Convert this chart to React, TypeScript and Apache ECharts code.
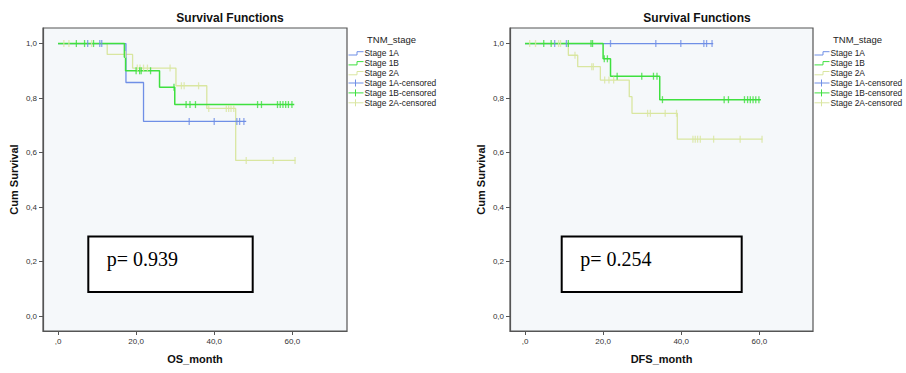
import React, { useEffect, useRef } from 'react';
import * as echarts from 'echarts';

const FONT = '"Liberation Sans", Arial, Helvetica, sans-serif';
const SERIF = '"Liberation Serif", "Times New Roman", serif';

const groupNames = ['Stage 1A', 'Stage 1B', 'Stage 2A'];
const legendLabels = ['Stage 1A', 'Stage 1B', 'Stage 2A', 'Stage 1A-censored', 'Stage 1B-censored', 'Stage 2A-censored'];
const groupColors = ['#6f8fe6', '#3fe03f', '#d9e6a0'];
const chartTitles = ['Survival Functions', 'Survival Functions'];
const xNames = ['OS_month', 'DFS_month'];
const yName = 'Cum Survival';
const legendTitle = 'TNM_stage';
const pValues = ['p= 0.939', 'p= 0.254'];

const xTickValues = [0, 20, 40, 60];
const yTickValues = [0, 0.2, 0.4, 0.6, 0.8, 1.0];

// ---- OS (left) ----
const os1A_time = [0, 17.4, 21.9, 48.2];
const os1A_surv = [1, 0.857, 0.714, 0.714];
const os1A_censTime = [7.6, 10.7, 11.2, 33.6, 40.0, 45.8, 46.5, 47.6];
const os1A_censSurv = [1, 1, 1, 0.714, 0.714, 0.714, 0.714, 0.714];

const os1B_time = [0, 17.0, 17.3, 26.0, 29.9, 60.5];
const os1B_surv = [1, 0.95, 0.9, 0.84, 0.776, 0.776];
const os1B_censTime = [4.7, 6.8, 9.1, 20.0, 20.9, 21.3, 23.7, 29.7, 32.8, 33.8, 35.2, 51.1, 52.1, 56.2, 56.9, 57.6, 58.3, 59.0, 59.9];
const os1B_censSurv = [1, 1, 1, 0.9, 0.9, 0.9, 0.9, 0.84, 0.776, 0.776, 0.776, 0.776, 0.776, 0.776, 0.776, 0.776, 0.776, 0.776, 0.776];

const os2A_time = [0, 12.6, 19.1, 30.2, 38.1, 45.5, 60.8];
const os2A_surv = [1, 0.96, 0.91, 0.845, 0.762, 0.571, 0.571];
const os2A_censTime = [1.5, 2.8, 8.6, 17.3, 20.3, 21.0, 21.9, 22.9, 28.7, 31.6, 32.3, 36.0, 38.6, 43.1, 43.7, 44.3, 45.0, 48.2, 55.1, 60.7];
const os2A_censSurv = [1, 1, 1, 0.96, 0.91, 0.91, 0.91, 0.91, 0.91, 0.845, 0.845, 0.845, 0.762, 0.762, 0.762, 0.762, 0.762, 0.571, 0.571, 0.571];

// ---- DFS (right) ----
const dfs1A_time = [0, 48.2];
const dfs1A_surv = [1, 1];
const dfs1A_censTime = [7.6, 10.6, 21.9, 33.5, 39.9, 45.8, 46.5, 47.9];
const dfs1A_censSurv = [1, 1, 1, 1, 1, 1, 1, 1];

const dfs1B_time = [0, 20.0, 21.9, 34.5, 60.4];
const dfs1B_surv = [1, 0.944, 0.88, 0.794, 0.794];
const dfs1B_censTime = [4.8, 6.7, 11.1, 16.9, 17.3, 20.3, 21.1, 23.6, 29.9, 32.9, 33.8, 35.2, 51.0, 52.1, 56.2, 57.0, 57.7, 58.4, 59.1, 59.9];
const dfs1B_censSurv = [1, 1, 1, 1, 1, 0.944, 0.944, 0.88, 0.88, 0.88, 0.88, 0.794, 0.794, 0.794, 0.794, 0.794, 0.794, 0.794, 0.794, 0.794];

const dfs2A_time = [0, 11.1, 13.5, 19.3, 26.7, 27.4, 39.0, 60.8];
const dfs2A_surv = [1, 0.957, 0.915, 0.866, 0.805, 0.744, 0.649, 0.649];
const dfs2A_censTime = [1.2, 2.7, 8.6, 9.1, 12.8, 17.1, 17.5, 20.4, 21.5, 22.7, 31.4, 32.1, 35.9, 38.8, 43.0, 43.6, 44.2, 44.9, 48.3, 55.1, 60.7];
const dfs2A_censSurv = [1, 1, 1, 1, 0.957, 0.915, 0.915, 0.866, 0.866, 0.866, 0.744, 0.744, 0.744, 0.744, 0.649, 0.649, 0.649, 0.649, 0.649, 0.649, 0.649];

const charts = [
  [
    { t: os1A_time, s: os1A_surv, ct: os1A_censTime, cs: os1A_censSurv },
    { t: os1B_time, s: os1B_surv, ct: os1B_censTime, cs: os1B_censSurv },
    { t: os2A_time, s: os2A_surv, ct: os2A_censTime, cs: os2A_censSurv },
  ],
  [
    { t: dfs1A_time, s: dfs1A_surv, ct: dfs1A_censTime, cs: dfs1A_censSurv },
    { t: dfs1B_time, s: dfs1B_surv, ct: dfs1B_censTime, cs: dfs1B_censSurv },
    { t: dfs2A_time, s: dfs2A_surv, ct: dfs2A_censTime, cs: dfs2A_censSurv },
  ],
];

const GRIDS = [
  { left: 43, top: 28, width: 304, height: 303 },
  { left: 510, top: 28, width: 303, height: 303 },
];

const fmtY = (v: number) => v.toFixed(1).replace('.', ',');
const fmtX = (v: number) => (v === 0 ? ',0' : v.toFixed(1).replace('.', ','));

export default function App() {
  const ref = useRef<HTMLDivElement>(null);
  useEffect(() => {
    document.body.style.margin = '0';
    if (!ref.current) return;
    const chart = echarts.init(ref.current, undefined, { renderer: 'svg' });

    const zOrder = [3, 4, 2];
    const series: any[] = [];
    charts.forEach((groups, c) => {
      groups.forEach((g, gi) => {
        series.push({
          type: 'line',
          name: groupNames[gi],
          xAxisIndex: c,
          yAxisIndex: c,
          step: 'end',
          symbol: 'none',
          z: zOrder[gi],
          lineStyle: { color: groupColors[gi], width: gi === 1 ? 1.5 : 1.3 },
          data: g.t.map((t, i) => [t, g.s[i]]),
        });
        series.push({
          type: 'scatter',
          name: groupNames[gi] + '-censored',
          xAxisIndex: c,
          yAxisIndex: c,
          symbol: 'rect',
          symbolSize: [1.3, 7],
          z: zOrder[gi] + 3,
          itemStyle: { color: groupColors[gi] },
          data: g.ct.map((t, i) => [t, g.cs[i]]),
        });
      });
    });

    const graphic: any[] = [];
    GRIDS.forEach((gr, c) => {
      const right = gr.left + gr.width;
      graphic.push({
        type: 'text', z: 100, x: gr.left + 187, y: 18,
        style: { text: chartTitles[c], font: `bold 12px ${FONT}`, fill: '#111', align: 'center', verticalAlign: 'middle' },
      });
      const bx = right + 1.5;
      graphic.push({
        type: 'text', z: 100, x: bx + 18.5, y: 39,
        style: { text: legendTitle, font: `9.5px ${FONT}`, fill: '#222', align: 'left', verticalAlign: 'middle' },
      });
      legendLabels.forEach((lab, i) => {
        const y = 53.3 + i * 9.9;
        const col = groupColors[i % 3];
        if (i < 3) {
          graphic.push({
            type: 'polyline', z: 100,
            shape: { points: [[bx, y + 1.7], [bx + 8.5, y + 1.7], [bx + 8.5, y - 1.6], [bx + 15, y - 1.6]] },
            style: { stroke: col, lineWidth: 1, fill: 'none' },
          });
        } else {
          graphic.push({
            type: 'line', z: 100,
            shape: { x1: bx, y1: y, x2: bx + 15, y2: y },
            style: { stroke: col, lineWidth: 1 },
          });
          graphic.push({
            type: 'line', z: 100,
            shape: { x1: bx + 7, y1: y - 3.5, x2: bx + 7, y2: y + 3.5 },
            style: { stroke: col, lineWidth: 1 },
          });
        }
        graphic.push({
          type: 'text', z: 100, x: bx + 16, y,
          style: { text: lab, font: `8.4px ${FONT}`, fill: '#222', align: 'left', verticalAlign: 'middle' },
        });
      });
      const boxX = c === 0 ? 88.3 : 561.7;
      const boxW = c === 0 ? 164.4 : 180;
      graphic.push({
        type: 'rect', z: 100,
        shape: { x: boxX, y: 236.5, width: boxW, height: 55.5 },
        style: { fill: '#ffffff', stroke: '#000', lineWidth: 2 },
      });
      graphic.push({
        type: 'text', z: 101, x: boxX + 18.5, y: 258.5,
        style: { text: pValues[c], font: `20px ${SERIF}`, fill: '#000', align: 'left', verticalAlign: 'middle' },
      });
    });

    chart.setOption({
      animation: false,
      backgroundColor: '#ffffff',
      grid: GRIDS.map((g) => ({
        ...g,
        show: true,
        backgroundColor: '#f5f8fa',
        borderColor: '#555',
        borderWidth: 1.2,
        containLabel: false,
      })),
      xAxis: GRIDS.map((_, c) => ({
        type: 'value',
        gridIndex: c,
        min: -3.84,
        max: c === 0 ? 74 : 73.75,
        name: xNames[c],
        nameLocation: 'middle',
        nameGap: 22,
        nameTextStyle: { fontFamily: FONT, fontWeight: 'bold', fontSize: 11, color: '#111' },
        axisLine: { show: true, onZero: false, lineStyle: { color: '#555', width: 1.2 } },
        axisTick: { show: true, length: 4, customValues: xTickValues, lineStyle: { color: '#555' } },
        axisLabel: { customValues: xTickValues, formatter: fmtX, fontFamily: FONT, fontSize: 8, color: '#333', margin: 6 },
        splitLine: { show: false },
      })),
      yAxis: GRIDS.map((_, c) => ({
        type: 'value',
        gridIndex: c,
        min: -0.055,
        max: 1.057,
        name: yName,
        nameLocation: 'middle',
        nameGap: 24,
        nameTextStyle: { fontFamily: FONT, fontWeight: 'bold', fontSize: 11, color: '#111' },
        axisLine: { show: true, onZero: false, lineStyle: { color: '#555', width: 1.2 } },
        axisTick: { show: true, length: 4, customValues: yTickValues, lineStyle: { color: '#555' } },
        axisLabel: { customValues: yTickValues, formatter: fmtY, fontFamily: FONT, fontSize: 8, color: '#333', margin: 6 },
        splitLine: { show: false },
      })),
      series,
      graphic,
    });
    return () => chart.dispose();
  }, []);
  return <div ref={ref} style={{ width: 906, height: 373 }} />;
}
